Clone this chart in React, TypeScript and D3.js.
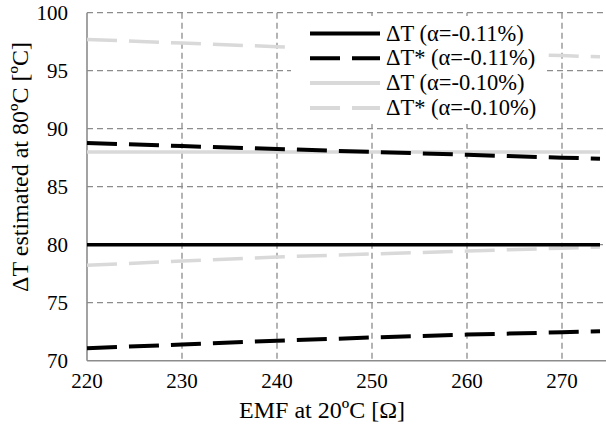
import React, { useEffect, useRef } from "react";
import * as d3 from "d3";

const emf = [220, 230, 240, 250, 260, 270, 274];
const dT011 = [80, 80, 80, 80, 80, 80, 80];
const dTs011Upper = [88.77, 88.5, 88.25, 88.0, 87.75, 87.5, 87.42];
const dTs011Lower = [71.07, 71.4, 71.72, 72.0, 72.25, 72.45, 72.53];
const dT010 = [88.0, 88.0, 88.0, 88.0, 88.0, 88.0, 88.0];
const dTs010Upper = [97.7, 97.38, 97.07, 96.8, 96.55, 96.3, 96.2];
const dTs010Lower = [78.22, 78.6, 78.94, 79.2, 79.45, 79.7, 79.8];

const xTicks = [220, 230, 240, 250, 260, 270];
const yTicks = [70, 75, 80, 85, 90, 95, 100];
const legendLabels = ["ΔT (α=-0.11%)", "ΔT* (α=-0.11%)", "ΔT (α=-0.10%)", "ΔT* (α=-0.10%)"];

const BLACK = "#000000";
const GREY = "#d9d9d9";

export default function App() {
  const ref = useRef<SVGSVGElement>(null);
  useEffect(() => {
    const svg = d3.select(ref.current);
    svg.selectAll("*").remove();
    const x = d3.scaleLinear().domain([220, 275]).range([87, 609.5]);
    const y = d3.scaleLinear().domain([70, 100]).range([360.7, 12.7]);
    const font = "'Liberation Serif', 'Times New Roman', serif";
    const gridColor = "#8c8c8c";

    const g = svg.append("g");
    // grid
    yTicks.filter((v) => v > 70).forEach((v) => {
      g.append("line").attr("x1", x(220)).attr("x2", 606).attr("y1", y(v)).attr("y2", y(v))
        .attr("stroke", gridColor).attr("stroke-width", 1.3).attr("stroke-dasharray", "6,4");
    });
    xTicks.filter((v) => v > 220).forEach((v) => {
      g.append("line").attr("x1", x(v)).attr("x2", x(v)).attr("y1", y(100)).attr("y2", y(70))
        .attr("stroke", gridColor).attr("stroke-width", 1.3).attr("stroke-dasharray", "6,4");
    });
    // axes
    g.append("line").attr("x1", x(220)).attr("x2", x(220)).attr("y1", y(100)).attr("y2", y(70))
      .attr("stroke", gridColor).attr("stroke-width", 1.6);
    g.append("line").attr("x1", x(220)).attr("x2", 606).attr("y1", y(70)).attr("y2", y(70))
      .attr("stroke", gridColor).attr("stroke-width", 1.6);

    const line = d3.line<number>().x((_, i) => x(emf[i])).y((d) => y(d));
    const series = [
      { data: dTs010Upper, color: GREY, dash: "30,12", w: 3.5 },
      { data: dTs010Lower, color: GREY, dash: "30,12", w: 3.5 },
      { data: dT010, color: GREY, dash: null, w: 3.5 },
      { data: dT011, color: BLACK, dash: null, w: 3.5 },
      { data: dTs011Upper, color: BLACK, dash: "30,12", w: 4 },
      { data: dTs011Lower, color: BLACK, dash: "30,12", w: 4 },
    ];
    series.forEach((s) => {
      const p = g.append("path").attr("d", line(s.data)).attr("fill", "none")
        .attr("stroke", s.color).attr("stroke-width", s.w);
      if (s.dash) p.attr("stroke-dasharray", s.dash);
    });

    // legend
    const lg = g.append("g");
    lg.append("rect").attr("x", 291).attr("y", 16).attr("width", 254).attr("height", 108).attr("fill", "#fff");
    const legendStyles = [
      { color: BLACK, dash: null },
      { color: BLACK, dash: "30,12" },
      { color: GREY, dash: null },
      { color: GREY, dash: "30,12" },
    ];
    legendLabels.forEach((lab, i) => {
      const yy = 33.5 + i * 24.8;
      const l = lg.append("line").attr("x1", 310).attr("x2", 380).attr("y1", yy).attr("y2", yy)
        .attr("stroke", legendStyles[i].color).attr("stroke-width", 4);
      if (legendStyles[i].dash) l.attr("stroke-dasharray", legendStyles[i].dash);
      lg.append("text").attr("x", 386).attr("y", yy + 7).attr("font-family", font).attr("font-size", 22.5)
        .attr("fill", "#000").text(lab);
    });

    // tick labels
    yTicks.forEach((v) => {
      g.append("text").attr("x", 68).attr("y", y(v) + 7).attr("text-anchor", "end")
        .attr("font-family", font).attr("font-size", 21).text(String(v));
    });
    xTicks.forEach((v) => {
      g.append("text").attr("x", x(v)).attr("y", 388).attr("text-anchor", "middle")
        .attr("font-family", font).attr("font-size", 21).text(String(v));
    });
    g.append("text").attr("x", 322).attr("y", 418).attr("text-anchor", "middle")
      .attr("font-family", font).attr("font-size", 24).text("EMF at 20ºC [Ω]");
    g.append("text").attr("transform", "translate(28,167) rotate(-90)").attr("text-anchor", "middle")
      .attr("font-family", font).attr("font-size", 24).text("ΔT estimated at 80ºC [ºC]");
  }, []);
  return (
    <svg ref={ref} width={606} height={432} style={{ position: "absolute", left: 0, top: 0, background: "#fff" }} />
  );
}
